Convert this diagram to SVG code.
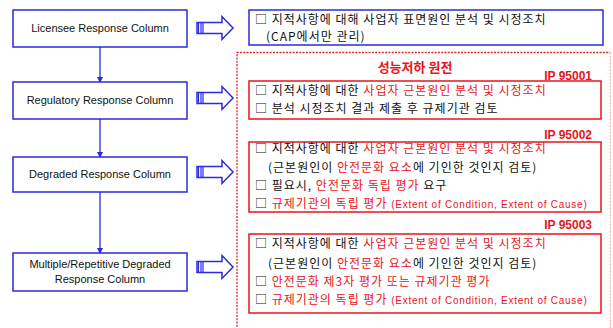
<svg xmlns="http://www.w3.org/2000/svg" width="613" height="328" viewBox="0 0 613 328">
<style>
.lbox{fill:#fff;stroke:#2a2ae0;stroke-width:1.5}
.ltxt{font-family:"Liberation Sans",Arial,sans-serif;font-size:11px;fill:#111;text-anchor:middle}
.kr{font-family:"Noto Sans CJK KR","Noto Sans",sans-serif;font-size:12px;letter-spacing:1px;fill:#111}
.r{fill:#e8141c}
.en{font-family:"Liberation Sans",Arial,sans-serif;font-size:10px;letter-spacing:0.75px}
.rbox{fill:none;stroke:#e8141c;stroke-width:1.5}
.ip{font-family:"Liberation Sans",Arial,sans-serif;font-size:12px;font-weight:bold;fill:#e8141c;text-anchor:end}
.conn{stroke:#2a2ae0;stroke-width:1.3;fill:none}
</style>
<defs>
<marker id="ah" viewBox="0 0 6 6" refX="5" refY="3" markerWidth="6" markerHeight="6" markerUnits="userSpaceOnUse" orient="auto">
<path d="M0,0 L6,3 L0,6 Z" fill="#2a2ae0"/>
</marker>
<g id="rarrow">
<path d="M0,-5.5 H25 V-11.5 L36,0 L25,11.5 V5.5 H0 Z" fill="#fff" stroke="#2a2ae0" stroke-width="1.5"/>
<path d="M1.5,-5.5 V5.5 M4,-5.5 V5.5 M6,-5.5 V5.5" stroke="#2a2ae0" stroke-width="1.2"/>
</g>
</defs>
<rect width="613" height="328" fill="#fff"/>

<g id="connectors">
<line class="conn" x1="100" y1="47" x2="100" y2="82" marker-end="url(#ah)"/>
<line class="conn" x1="100" y1="119" x2="100" y2="157" marker-end="url(#ah)"/>
<line class="conn" x1="100" y1="192" x2="100" y2="253" marker-end="url(#ah)"/>
<use href="#rarrow" x="197" y="28"/>
<use href="#rarrow" x="197" y="98"/>
<use href="#rarrow" x="197" y="172"/>
<use href="#rarrow" x="197" y="267"/>
</g>

<g id="licensee">
<rect class="lbox" x="13" y="10" width="174" height="37"/>
<text class="ltxt" x="100" y="32">Licensee Response Column</text>
</g>
<g id="regulatory">
<rect class="lbox" x="13" y="82" width="174" height="37"/>
<text class="ltxt" x="100" y="104">Regulatory Response Column</text>
</g>
<g id="degraded">
<rect class="lbox" x="13" y="157" width="174" height="35"/>
<text class="ltxt" x="100" y="178">Degraded Response Column</text>
</g>
<g id="multiple">
<rect class="lbox" x="13" y="253" width="174" height="38"/>
<text class="ltxt" x="100" y="268">Multiple/Repetitive Degraded</text>
<text class="ltxt" x="100" y="283">Response Column</text>
</g>

<g id="licensee-desc">
<rect x="249" y="10" width="354" height="35" fill="#fff" stroke="#2a2ae0" stroke-width="1.5"/>
<text class="kr" x="255" y="24">□ 지적사항에 대해 사업자 표면원인 분석 및 시정조치</text>
<text class="kr" x="266" y="41">(CAP에서만 관리)</text>
</g>

<g id="degraded-plants">
<path d="M237,340 V52.5 H610" fill="none" stroke="#d8282c" stroke-width="1.3" stroke-dasharray="2 1.3"/>
<path d="M610.5,52.5 V340" fill="none" stroke="#f0b0b0" stroke-width="1" stroke-dasharray="2 1.3"/>
<text x="415" y="72" font-family="Noto Sans CJK KR, sans-serif" font-size="13" font-weight="bold" fill="#e8141c" text-anchor="middle">성능저하 원전</text>
</g>

<g id="ip95001">
<text class="ip" x="592" y="80">IP 95001</text>
<rect class="rbox" x="249" y="81" width="352" height="38"/>
<text class="kr" x="255" y="95">□ 지적사항에 대한 <tspan class="r">사업자 근본원인 분석 및 시정조치</tspan></text>
<text class="kr" x="255" y="113">□ 분석 시정조치 결과 제출 후 규제기관 검토</text>
</g>

<g id="ip95002">
<text class="ip" x="592" y="139">IP 95002</text>
<rect class="rbox" x="249" y="142" width="352" height="70"/>
<text class="kr" x="255" y="153">□ 지적사항에 대한 <tspan class="r">사업자 근본원인 분석 및 시정조치</tspan></text>
<text class="kr" x="268" y="172">(근본원인이 <tspan class="r">안전문화 요소</tspan>에 기인한 것인지 검토)</text>
<text class="kr" x="255" y="190">□ 필요시, <tspan class="r">안전문화 독립 평가</tspan> 요구</text>
<text class="kr" x="255" y="208">□ <tspan class="r">규제기관의 독립 평가 <tspan class="en">(Extent of Condition, Extent of Cause)</tspan></tspan></text>
</g>

<g id="ip95003">
<text class="ip" x="592" y="229">IP 95003</text>
<rect class="rbox" x="249" y="234" width="352" height="79"/>
<text class="kr" x="255" y="248">□ 지적사항에 대한 <tspan class="r">사업자 근본원인 분석 및 시정조치</tspan></text>
<text class="kr" x="268" y="268">(근본원인이 <tspan class="r">안전문화 요소</tspan>에 기인한 것인지 검토)</text>
<text class="kr" x="255" y="286">□ <tspan class="r">안전문화 제3자 평가 또는 규제기관 평가</tspan></text>
<text class="kr" x="255" y="304">□ <tspan class="r">규제기관의 독립 평가 <tspan class="en">(Extent of Condition, Extent of Cause)</tspan></tspan></text>
</g>
</svg>
